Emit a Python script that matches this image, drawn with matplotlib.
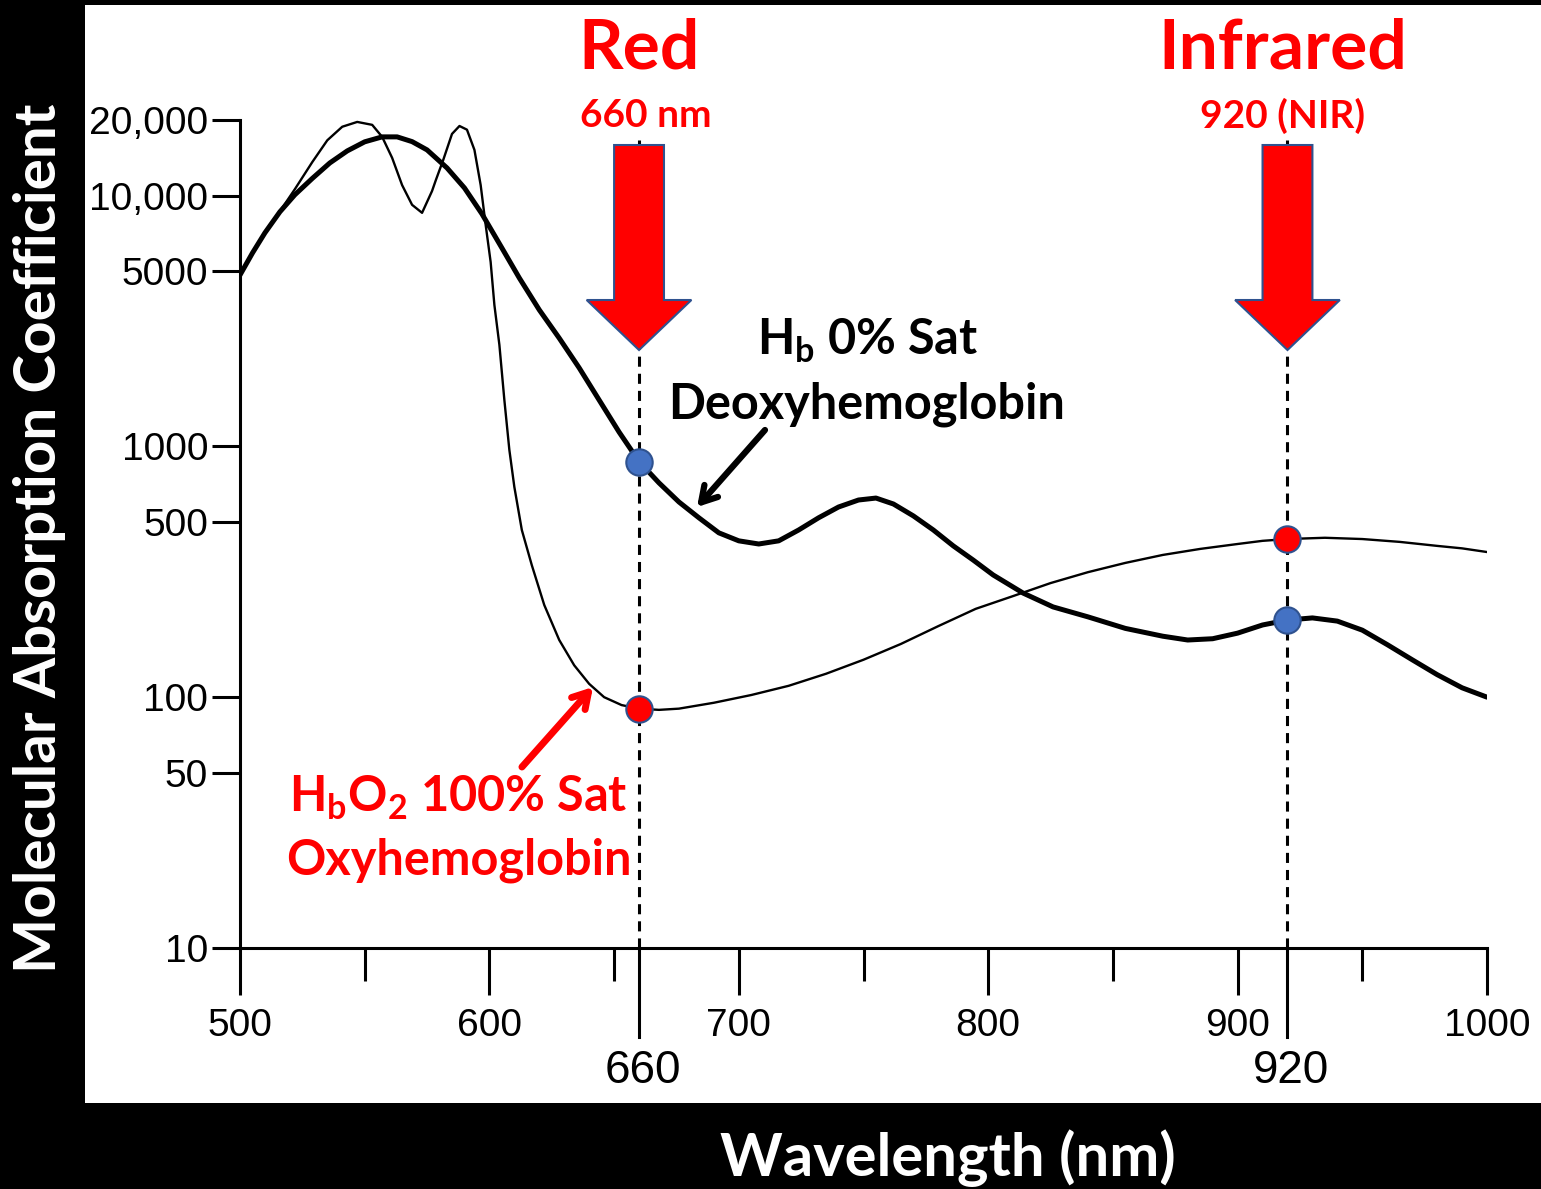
import matplotlib
matplotlib.use("Agg")
import matplotlib.pyplot as plt
from matplotlib.patches import Rectangle, Polygon

plt.rcParams["font.family"] = "Liberation Sans"
plt.rcParams["mathtext.fontset"] = "custom"
plt.rcParams["mathtext.rm"] = "Lato:bold"
plt.rcParams["mathtext.bf"] = "Lato:bold"

# deoxyhemoglobin (Hb, 0% sat) - thick curve
deoxy_nm = [500, 505, 510, 516, 522, 529, 536, 543, 550, 557, 563, 569, 575, 583,
            590, 597, 605, 612, 620, 628, 636, 644, 652, 660, 668, 676, 684, 692,
            700, 708, 716, 724, 732, 740, 748, 755, 762, 770, 778, 786, 794, 802,
            814, 826, 840, 855, 870, 880, 890, 900, 910, 920, 930, 940, 950, 960,
            970, 980, 990, 1000]
deoxy_val = [4820, 5900, 7100, 8610, 10070, 11700, 13480, 15060, 16370, 17130, 17130, 16400, 15200, 12880,
             10720, 8450, 6180, 4690, 3500, 2700, 2055, 1530, 1140, 870, 715, 600, 519, 452,
             420, 408, 420, 464, 519, 573, 611, 622, 589, 528, 464, 401, 352, 307,
             260, 229, 209, 188, 175, 169, 171, 180, 194, 203, 207, 201, 185, 162,
             141, 123, 109, 100]

# oxyhemoglobin (HbO2, 100% sat) - thin curve
oxy_nm = [500, 505, 510, 516, 522, 529, 535, 541, 547, 553, 557, 561, 565, 569,
          573, 577, 578.5, 581.5, 585, 588, 591, 594, 596.5, 598.5, 600.5, 602, 604, 606,
          608, 610, 613, 617, 622, 628, 634, 640, 646, 653, 660, 668, 676, 690,
          705, 720, 735, 750, 765, 780, 795, 810, 825, 840, 855, 870, 885, 900,
          910, 920, 935, 950, 965, 980, 990, 1000]
oxy_val = [4820, 5900, 7100, 8650, 10600, 13600, 16600, 18800, 19650, 19130, 17130, 14130, 11000, 9180,
           8530, 10420, 11500, 13870, 17600, 18930, 18300, 15200, 11000, 7640, 5430, 3660, 2540, 1530,
           968, 689, 464, 336, 233, 169, 134, 113, 100, 93, 90, 89, 90, 95,
           102, 111, 124, 141, 163, 192, 225, 253, 285, 315, 343, 369, 390, 408,
           420, 427, 432, 427, 416, 401, 392, 379]

# highlighted wavelengths and values read at them
mark_nm = [660, 920]
mark_deoxy = [870, 203]
mark_oxy = [90, 427]

xticks = [500, 600, 700, 800, 900, 1000]
xminor = [550, 650, 750, 850, 950]
yticks = [10, 50, 100, 500, 1000, 5000, 10000, 20000]
ylabels = ["10", "50", "100", "500", "1000", "5000", "10,000", "20,000"]

W, H = 1541, 1189
fig = plt.figure(figsize=(W / 100, H / 100), dpi=100, facecolor="black")
fig.patches.append(Rectangle((85 / W, 86 / H), (W - 85) / W, (1184 - 86) / H,
                             transform=fig.transFigure, facecolor="white",
                             edgecolor="none", zorder=-10))

ax = fig.add_axes([240 / W, (H - 948) / H, 1247 / W, 828 / H])
ax.set_zorder(2)
ax.set_facecolor("none")
ax.set_yscale("log")
ax.set_xlim(500, 1000)
ax.set_ylim(10, 20000)
for s in ["top", "right"]:
    ax.spines[s].set_visible(False)
for s in ["left", "bottom"]:
    ax.spines[s].set_linewidth(2.2)

ax.set_xticks(xticks)
ax.set_xticklabels([str(t) for t in xticks])
ax.set_xticks(xminor, minor=True)
ax.set_yticks(yticks)
ax.set_yticklabels(ylabels)
ax.yaxis.set_minor_locator(matplotlib.ticker.NullLocator())
ax.tick_params(axis="x", which="major", length=34, width=2.2, pad=9, labelsize=28)
ax.tick_params(axis="x", which="minor", length=24, width=2.2)
ax.tick_params(axis="y", which="major", length=20, width=2.2, pad=3, labelsize=28)

ax.plot(deoxy_nm, deoxy_val, color="black", lw=3.6, solid_joinstyle="round",
        solid_capstyle="round", zorder=3)
ax.plot(oxy_nm, oxy_val, color="black", lw=1.7, solid_joinstyle="round", zorder=3)

xt = ax.get_xaxis_transform()
for wl in mark_nm:
    ax.plot([wl, wl], [0, 0.976], transform=xt, color="black", lw=2.2,
            dashes=(3.3, 2.3), clip_on=False, zorder=2)
    ax.plot([wl, wl], [0, -0.107], transform=xt, color="black", lw=2.2,
            clip_on=False, zorder=2)
    ax.text(wl + 1.5, -0.148, str(wl), transform=xt, ha="center", va="center",
            fontsize=33, clip_on=False)
    # block arrow pointing down at the wavelength
    arrow = Polygon([(wl - 10, 0.9698), (wl + 10, 0.9698), (wl + 10, 0.7826),
                     (wl + 21, 0.7826), (wl, 0.7222), (wl - 21, 0.7826),
                     (wl - 10, 0.7826)], closed=True, transform=xt,
                    facecolor="#FF0000", edgecolor="#2F528F", lw=1.5,
                    clip_on=False, zorder=4)
    ax.add_patch(arrow)

ax.plot(mark_nm, mark_deoxy, "o", ms=19, mfc="#4472C4", mec="#2F528F", mew=1.5,
        zorder=5, clip_on=False)
ax.plot(mark_nm, mark_oxy, "o", ms=19, mfc="#FF0000", mec="#2F528F", mew=1.5,
        zorder=5, clip_on=False)

bold = dict(family="Lato", fontweight="bold")
ax.text(660, 1.0628, "Red", transform=xt, ha="center", va="baseline",
        color="#FF0000", fontsize=50, **bold)
ax.text(662.5, 0.9915, "660 nm", transform=xt, ha="center", va="baseline",
        color="#FF0000", fontsize=28, **bold)
ax.text(918, 1.0628, "Infrared", transform=xt, ha="center", va="baseline",
        color="#FF0000", fontsize=50, **bold)
ax.text(918, 0.990, "920 (NIR)", transform=xt, ha="center", va="baseline",
        color="#FF0000", fontsize=28, **bold)

ta = ax.transAxes
ax.text(0.5036, 0.716, r"H$_{\mathrm{b}}$ 0% Sat", transform=ta, ha="center",
        va="baseline", color="black", fontsize=35, **bold)
ax.text(0.5028, 0.640, "Deoxyhemoglobin", transform=ta, ha="center",
        va="baseline", color="black", fontsize=35, **bold)
ax.annotate("", xy=(0.3665, 0.5326), xytext=(0.4210, 0.6256), xycoords=ta,
            textcoords=ta,
            arrowprops=dict(arrowstyle="->,head_length=1.1,head_width=0.65",
                            color="black", lw=4.5, shrinkA=0, shrinkB=0))

ax.text(0.1748, 0.1643, r"H$_{\mathrm{b}}$O$_{\mathrm{2}}$ 100% Sat", transform=ta,
        ha="center", va="baseline", color="#FF0000", fontsize=35, **bold)
ax.text(0.1756, 0.0882, "Oxyhemoglobin", transform=ta, ha="center",
        va="baseline", color="#FF0000", fontsize=35, **bold)
ax.annotate("", xy=(0.2831, 0.3152), xytext=(0.2261, 0.2186), xycoords=ta,
            textcoords=ta,
            arrowprops=dict(arrowstyle="->,head_length=1.1,head_width=0.65",
                            color="#FF0000", lw=5, shrinkA=0, shrinkB=0))

fig.text(40 / W, 1 - 538 / H, "Molecular Absorption Coefficient", rotation=90,
         ha="center", va="center", color="white", fontsize=42, **bold)
fig.text(948 / W, 1 - 1158 / H, "Wavelength (nm)", ha="center", va="center",
         color="white", fontsize=43, **bold)

fig.savefig("out.png", dpi=100, facecolor=fig.get_facecolor())
